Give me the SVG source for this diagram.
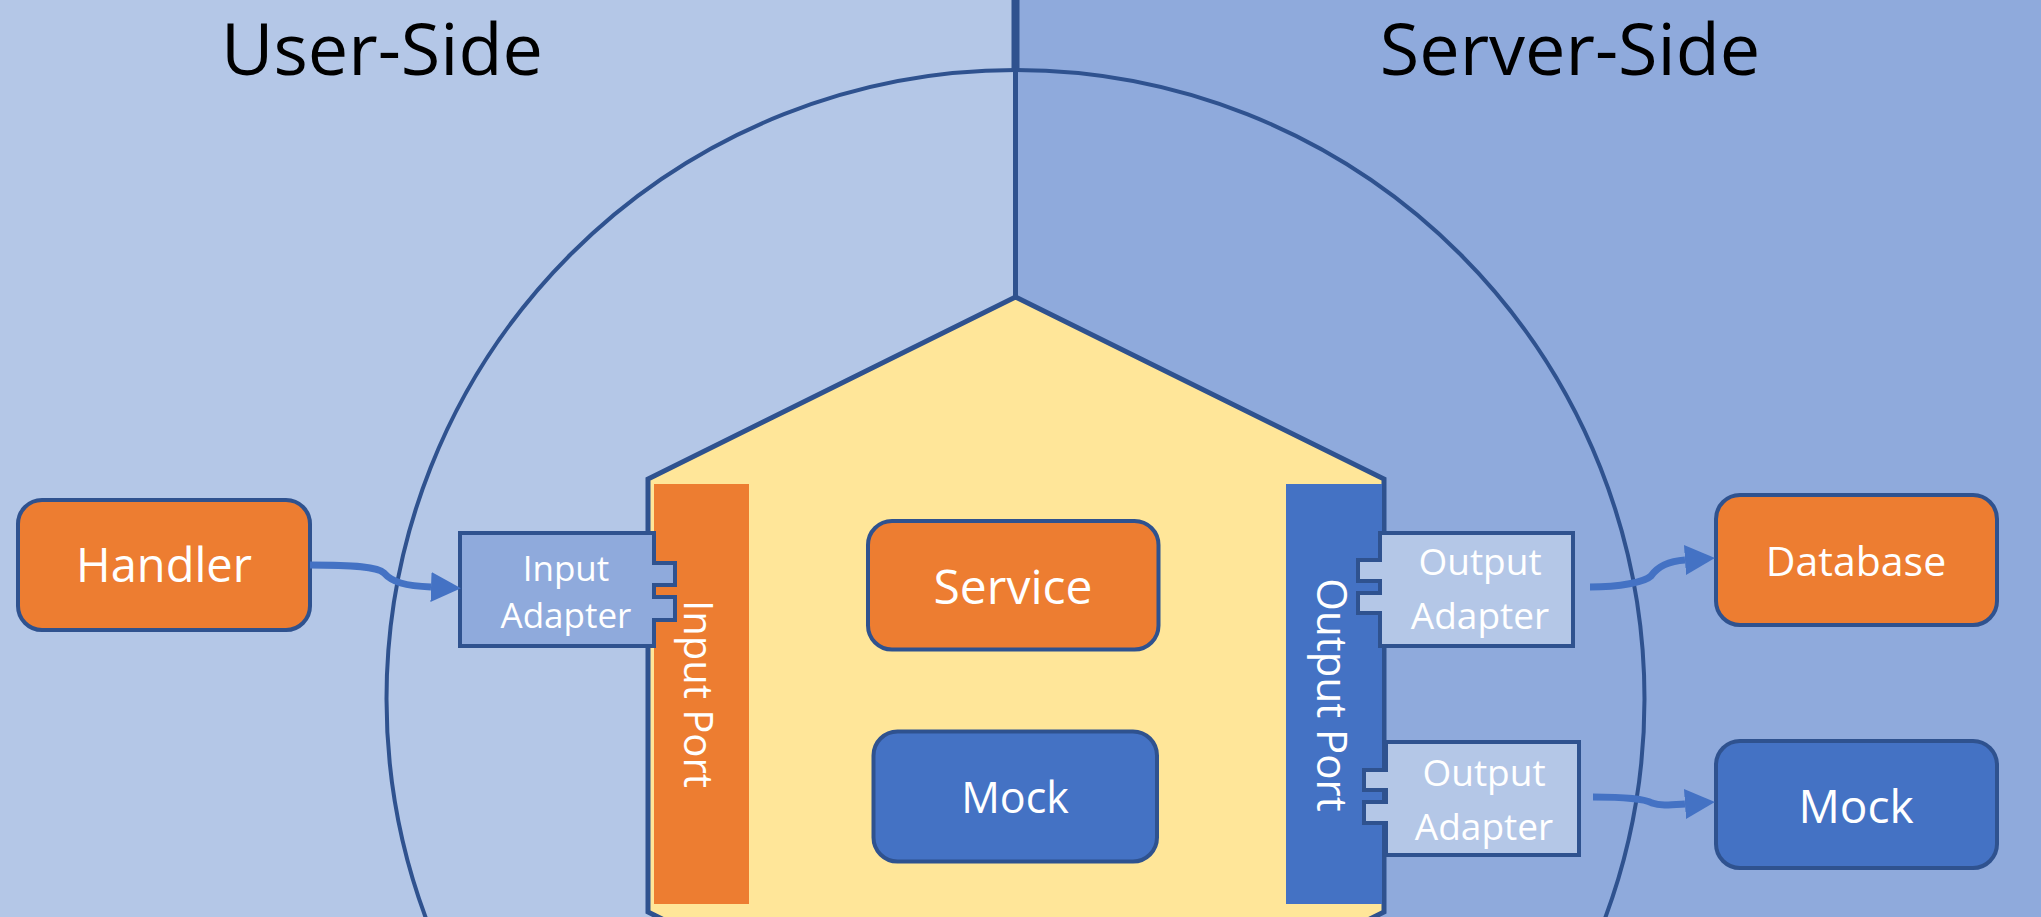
<svg xmlns="http://www.w3.org/2000/svg" width="2041" height="917" viewBox="0 0 2041 917">
<defs>
<style>
.t{font-family:"Open Sans","Noto Sans","Liberation Sans",sans-serif;fill:#fff;text-anchor:middle;dominant-baseline:central}
.title{font-family:"Open Sans","Noto Sans","Liberation Sans",sans-serif;fill:#000;text-anchor:middle;font-size:72px}
.box{stroke:#2F528F;stroke-width:4}
.orange{fill:#ED7D31}
.blue{fill:#4472C4}
.conn{fill:none;stroke:#4472C4;stroke-width:7}
</style>
<marker id="arr" markerUnits="userSpaceOnUse" markerWidth="32" markerHeight="32" refX="0" refY="15" orient="auto">
<path d="M0,0 L30,15 L0,30 Z" fill="#4472C4"/>
</marker>
</defs>
<g id="background">
<rect x="0" y="0" width="1016" height="917" fill="#B4C7E7"/>
<rect x="1016" y="0" width="1025" height="917" fill="#8FAADC"/>
<circle cx="1015.5" cy="699" r="629" fill="none" stroke="#2F528F" stroke-width="4"/>
<line x1="1015.5" y1="0" x2="1015.5" y2="70" stroke="#2F528F" stroke-width="8"/>
<line x1="1015.5" y1="70" x2="1015.5" y2="297" stroke="#2F528F" stroke-width="5"/>
<text class="title" x="382" y="75">User-Side</text>
<text class="title" x="1570" y="75">Server-Side</text>
</g>
<g id="house">
<path d="M1015.5,297 L1384,479 L1384,912 L1015.5,1094 L648,912 L648,479 Z" fill="#FFE699" stroke="#2F528F" stroke-width="5" stroke-linejoin="miter"/>
</g>
<g id="input-port">
<rect x="654" y="484" width="95" height="420" class="orange"/>
<text class="t" font-size="40" transform="translate(699 694) rotate(90)">Input Port</text>
</g>
<g id="output-port">
<rect x="1286" y="484" width="96" height="420" class="blue"/>
<text class="t" font-size="42" transform="translate(1333 695) rotate(90)">Output Port</text>
</g>
<g id="service">
<rect x="868" y="521" width="290.5" height="128.5" rx="24" class="box orange"/>
<text class="t" x="1013" y="585" font-size="48">Service</text>
</g>
<g id="mock-inner">
<rect x="873.5" y="731.5" width="283.5" height="130" rx="24" class="box blue"/>
<text class="t" x="1015" y="796" font-size="43">Mock</text>
</g>
<g id="handler">
<rect x="18" y="500" width="292" height="130" rx="24" class="box orange"/>
<text class="t" x="164" y="564" font-size="47">Handler</text>
</g>
<g id="input-adapter">
<path d="M460,533 H654 V563 H675 V585 H654 V597 H675 V620 H654 V646 H460 Z" fill="#8FAADC" stroke="#2F528F" stroke-width="4"/>
<text class="t" x="566" y="567" font-size="35">Input</text>
<text class="t" x="566" y="614" font-size="35">Adapter</text>
</g>
<g id="output-adapter-1">
<path d="M1380,533 H1573 V646 H1380 V613 H1358 V593 H1380 V581 H1358 V560 H1380 Z" fill="#B4C7E7" stroke="#2F528F" stroke-width="4"/>
<text class="t" x="1480" y="560" font-size="37">Output</text>
<text class="t" x="1480" y="614" font-size="37">Adapter</text>
</g>
<g id="output-adapter-2">
<path d="M1386,742 H1579 V855 H1386 V823 H1364 V802 H1386 V790 H1364 V770 H1386 Z" fill="#B4C7E7" stroke="#2F528F" stroke-width="4"/>
<text class="t" x="1484" y="771" font-size="37">Output</text>
<text class="t" x="1484" y="825" font-size="37">Adapter</text>
</g>
<g id="database">
<rect x="1716" y="495" width="281" height="130" rx="24" class="box orange"/>
<text class="t" x="1856" y="560" font-size="41">Database</text>
</g>
<g id="mock-outer">
<rect x="1716" y="741" width="281" height="127" rx="24" class="box blue"/>
<text class="t" x="1856" y="805" font-size="46">Mock</text>
</g>
<g id="connectors">
<path class="conn" d="M310,565 C355,565 378,567 384,573 C392,582 405,586 431,587" marker-end="url(#arr)"/>
<path class="conn" d="M1590,587 C1620,587 1645,582 1651,576 C1658,566 1670,561 1685,560" marker-end="url(#arr)"/>
<path class="conn" d="M1593,797 C1625,797 1645,799 1652,803 C1660,806 1670,805 1685,804" marker-end="url(#arr)"/>
</g>
</svg>
